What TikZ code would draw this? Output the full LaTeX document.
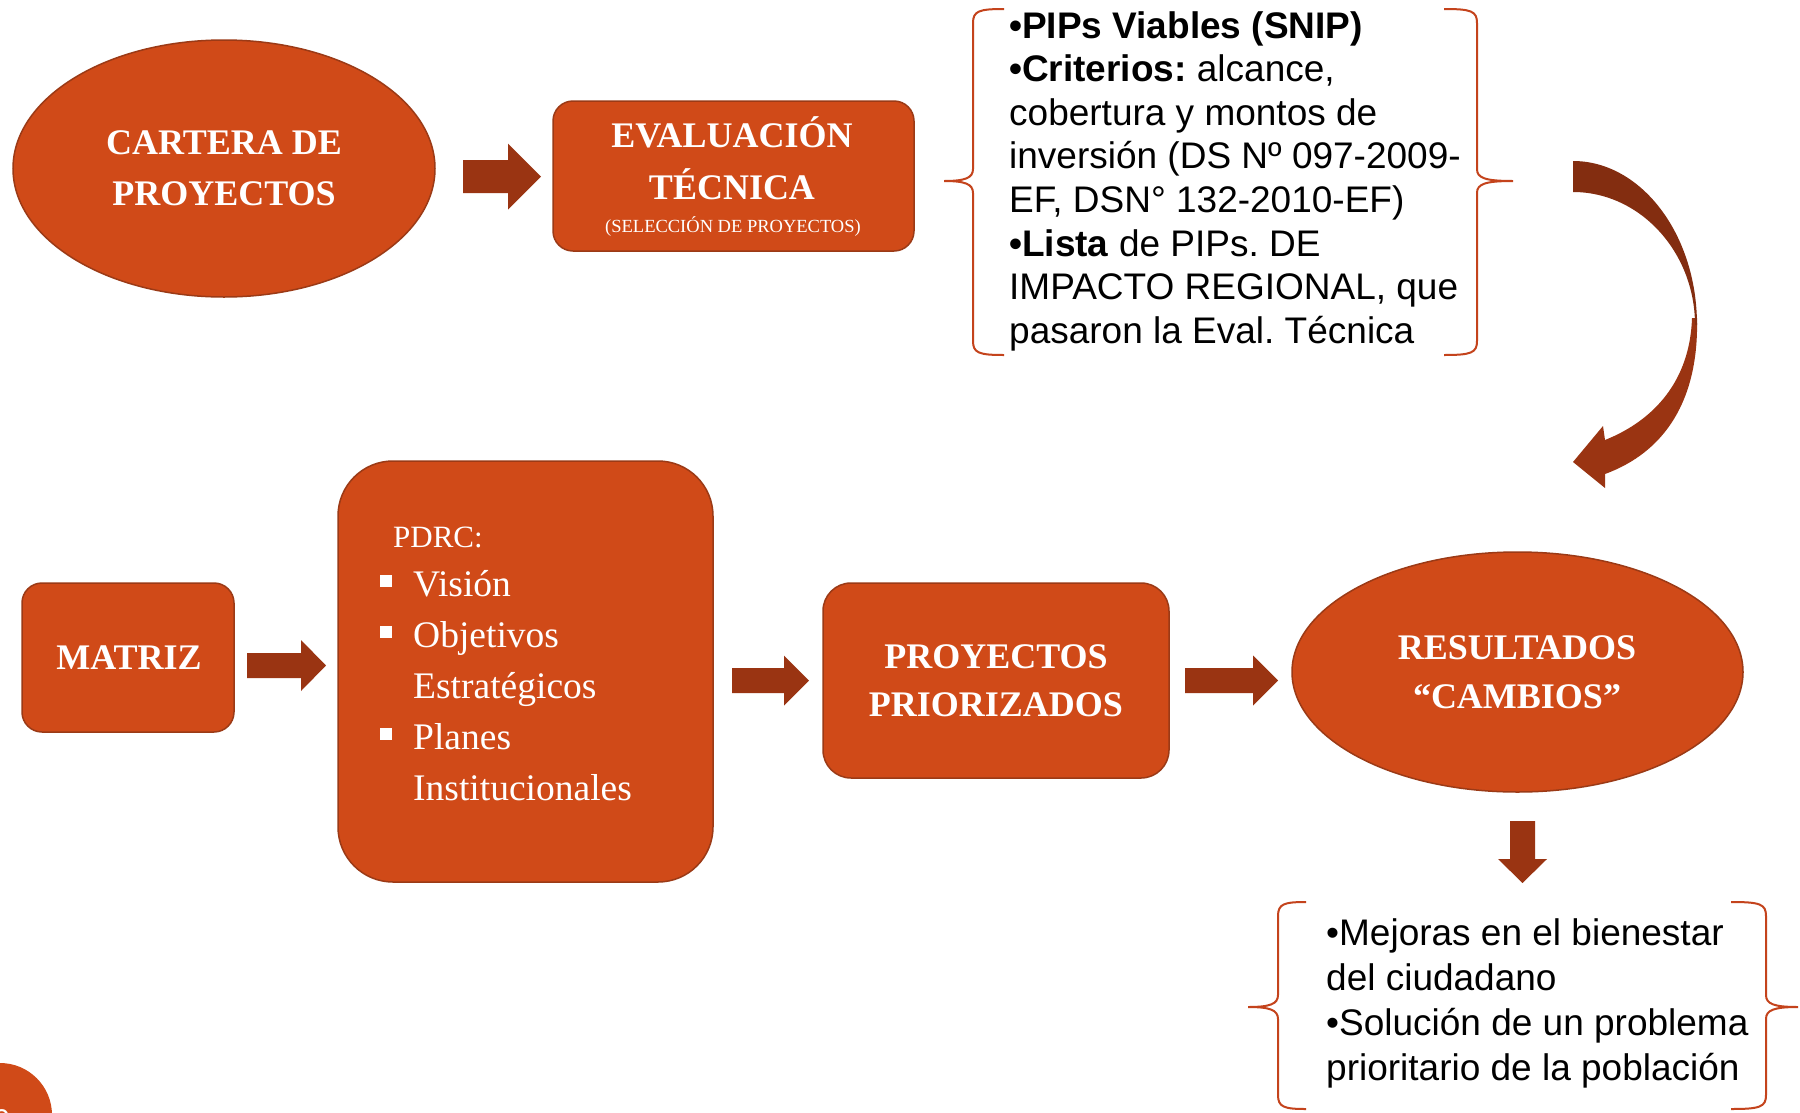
\documentclass[tikz,border=0pt]{standalone}
\usepackage{fontspec}
\setmainfont{Liberation Serif}
\newfontfamily\arialf{Liberation Sans}
\usetikzlibrary{shapes.geometric}
\definecolor{boxfill}{HTML}{D04A18}
\definecolor{boxline}{HTML}{9B3A16}
\definecolor{arrowc}{HTML}{9A3412}
\definecolor{arrowdark}{HTML}{832D10}
\definecolor{bracec}{HTML}{C4431C}
\newcommand{\mlt}[2]{\begin{tabular}[t]{@{}#1@{}}#2\end{tabular}}
\newcommand{\blockarrow}[6]{%
  \fill[arrowc] (#1,{#4-#5}) -- (#2,{#4-#5}) -- (#2,{#4-#6}) -- (#3,#4) -- (#2,{#4+#6}) -- (#2,{#4+#5}) -- (#1,{#4+#5}) -- cycle;}
\newcommand{\leftbrace}[6]{% xs xv xt ytop ymid ybot
  \draw[bracepath] (#1,#4) .. controls ({#2+6},#4) and (#2,{#4+2}) .. (#2,{#4+14})
    -- (#2,{#5-12}) .. controls (#2,{#5-3}) and ({#2-8},#5) .. (#3,#5)
    .. controls ({#2-8},#5) and (#2,{#5+3}) .. (#2,{#5+12})
    -- (#2,{#6-14}) .. controls (#2,{#6-2}) and ({#2+6},#6) .. (#1,#6);}
\newcommand{\rightbrace}[6]{% xs xv xt ytop ymid ybot
  \draw[bracepath] (#1,#4) .. controls ({#2-6},#4) and (#2,{#4+2}) .. (#2,{#4+14})
    -- (#2,{#5-12}) .. controls (#2,{#5-3}) and ({#2+8},#5) .. (#3,#5)
    .. controls ({#2+8},#5) and (#2,{#5+3}) .. (#2,{#5+12})
    -- (#2,{#6-14}) .. controls (#2,{#6-2}) and ({#2-6},#6) .. (#1,#6);}
\begin{document}
\frenchspacing
\begin{tikzpicture}[x=1pt,y=-1pt,
  shapebox/.style={draw=boxline, line width=1.5pt, fill=boxfill, inner sep=0pt, outer sep=0pt},
  rbox/.style={shapebox, rectangle, rounded corners=#1},
  oval/.style={shapebox, ellipse},
  headtxt/.style={text=white, inner sep=0pt, font=\fontsize{36}{51}\selectfont\bfseries},
  bodytxt/.style={text=white, inner sep=0pt, font=\fontsize{37.5}{51}\selectfont},
  notetxt/.style={text=black, inner sep=0pt, anchor=base west},
  bracepath/.style={draw=bracec, line width=2pt}
]
\useasboundingbox[fill=white] (0,0) rectangle (1800,1112);

% row 1
\node[oval, minimum width=422pt, minimum height=257pt] (cartera) at (224,168.5) {};
\node[headtxt, anchor=base] (carterat) at (224,154) {\mlt{c}{CARTERA DE\\PROYECTOS}};

\node[rbox=20pt, minimum width=361pt, minimum height=150pt] (eval) at (733.5,176) {};
\node[headtxt, anchor=base] (evalt) at (732,147) {\mlt{c}{EVALUACIÓN\\[1pt]TÉCNICA}};
\node[text=white, inner sep=0pt, anchor=base, font=\fontsize{18.5}{20}\selectfont] (evals) at (733,232) {(SELECCIÓN DE PROYECTOS)};

\blockarrow{463}{508}{541}{176.5}{16.5}{33}

% brace note 1
\leftbrace{1004}{973}{944}{9}{181}{355}
\rightbrace{1444}{1477}{1513}{9}{181}{355}
\node[notetxt, font=\arialf\fontsize{37}{43.6}\selectfont] (note1) at (1009,38) {\mlt{l}{%
\textbf{•PIPs Viables (SNIP)}\\
\textbf{•Criterios:} alcance,\\
cobertura y montos de\\
inversión (DS Nº 097-2009-\\
EF, DSN° 132-2010-EF)\\
\textbf{•Lista} de PIPs. DE\\
IMPACTO REGIONAL, que\\
pasaron la Eval. Técnica}};

% curved arrow
\fill[arrowc] (1697,318) .. controls (1699,400) and (1665,452) .. (1605,474)
  -- (1605,488) -- (1573,462) -- (1603,426) -- (1605,440)
  .. controls (1655,420) and (1690,380) .. (1692,318) -- cycle;
\fill[arrowdark] (1573,161) .. controls (1641,161) and (1697,234) .. (1697,325)
  -- (1695,325) .. controls (1695,252) and (1640,192) .. (1573,192) -- cycle;

% row 2
\node[rbox=20pt, minimum width=212pt, minimum height=149pt] (matriz) at (128,657.5) {};
\node[headtxt, anchor=base] (matrizt) at (129,669) {MATRIZ};

\blockarrow{247}{301}{326}{665.5}{12.5}{25.5}

\node[rbox=55pt, minimum width=375pt, minimum height=421pt] (pdrc) at (525.5,671.5) {};
\node[text=white, inner sep=0pt, anchor=base west, font=\fontsize{31}{40}\selectfont] (pdrct) at (393,547) {PDRC:};
\node[bodytxt, anchor=base west] (pdrcl) at (380,596) {\begin{tabular}[t]{@{}l@{\hspace{21pt}}l@{}}
\rule[9pt]{12pt}{12pt} & Visión\\
\rule[9pt]{12pt}{12pt} & Objetivos\\
 & Estratégicos\\
\rule[9pt]{12pt}{12pt} & Planes\\
 & Institucionales
\end{tabular}};

\blockarrow{732}{784}{809}{680.5}{12.5}{25}

\node[rbox=28pt, minimum width=346pt, minimum height=195pt] (prior) at (996,680.5) {};
\node[headtxt, anchor=base] (priort) at (996,668) {\mlt{c}{PROYECTOS\\[-3pt]PRIORIZADOS}};

\blockarrow{1185}{1253}{1278}{680.5}{12.5}{25}

\node[oval, minimum width=451pt, minimum height=240pt] (result) at (1517.5,672) {};
\node[headtxt, anchor=base] (resultt) at (1517,659) {\mlt{c}{RESULTADOS\\[-2pt]“CAMBIOS”}};

% down arrow
\fill[arrowc] (1510,821) -- (1535,821) -- (1535,859) -- (1547,859) -- (1522.5,883) -- (1498,859) -- (1510,859) -- cycle;

% brace note 2
\leftbrace{1306}{1278}{1248}{902}{1007}{1109}
\rightbrace{1731}{1766}{1798}{902}{1007}{1109}
\node[notetxt, font=\arialf\fontsize{37}{45}\selectfont] (note2) at (1326,945) {\mlt{l}{%
•Mejoras en el bienestar\\
del ciudadano\\
•Solución de un problema\\
prioritario de la población}};

% slide number badge
\fill[boxfill] (0,1115) circle[radius=52];
\node[text=white, inner sep=0pt, anchor=base, font=\arialf\fontsize{30}{30}\selectfont] (pagenum) at (2,1130) {9};
\end{tikzpicture}
\end{document}
